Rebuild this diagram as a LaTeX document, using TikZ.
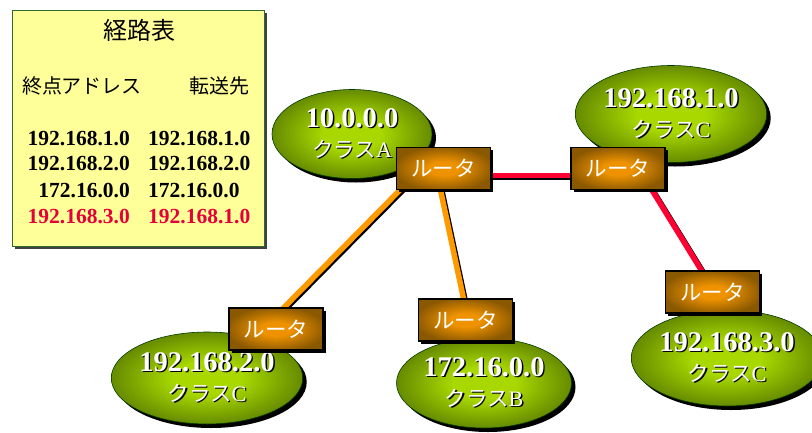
\documentclass[tikz,border=0pt]{standalone}
\usepackage{fontspec}
\setmainfont{Liberation Serif}
\newfontfamily\jp{Noto Sans CJK JP}
\usetikzlibrary{shapes.geometric,shadows,calc}
\pgfdeclarelayer{background}
\pgfsetlayers{background,main}

\definecolor{netlite}{HTML}{A8D800}
\definecolor{netdark}{HTML}{4E6E00}
\definecolor{rtlite}{HTML}{EE9200}
\definecolor{rtdark}{HTML}{8A5800}
\definecolor{tabfill}{HTML}{FFFF99}
\definecolor{tabedge}{HTML}{2E6B2E}
\definecolor{linkred}{HTML}{FF0033}
\definecolor{linkorange}{HTML}{FF9900}
\definecolor{rowred}{HTML}{E6003A}

\pgfdeclareradialshading{netglow}{\pgfpoint{0bp}{0bp}}{color(0bp)=(netlite); color(9bp)=(netlite); color(31bp)=(netdark); color(50bp)=(netdark)}
\pgfdeclareradialshading{rtglow}{\pgfpoint{0bp}{0bp}}{color(0bp)=(rtlite); color(8bp)=(rtlite); color(27bp)=(rtdark); color(50bp)=(rtdark)}

% white label with a dark drop shadow behind it
\newcommand\shtext[1]{\rlap{\kern1.4pt\raisebox{-1.4pt}{\color{black}#1}}#1}
\newcommand\addr[1]{\shtext{\fontsize{28.5}{30}\selectfont\bfseries #1}}
\newcommand\cls[1]{\shtext{{\jp クラス}\fontsize{22}{30}\selectfont #1}}

\tikzset{
  net/.style={ellipse, shade, shading=netglow, draw=black!60!green!60!black, line width=0.6pt,
    inner sep=0pt, text=white, align=center, font=\fontsize{21.5}{30}\selectfont,
    drop shadow={shadow xshift=4pt, shadow yshift=-4pt, fill=black, opacity=1}},
  router/.style={rectangle, shade, shading=rtglow, draw=black, line width=1.1pt,
    minimum width=94pt, minimum height=42pt, inner sep=0pt, text=white,
    font=\jp\fontsize{21.5}{21.5}\selectfont,
    drop shadow={shadow xshift=2.5pt, shadow yshift=-2.5pt, fill=black, opacity=1}},
  link/.style={line width=5.5pt, shorten <=-8pt, shorten >=-8pt,
    preaction={draw=black, line width=5.5pt, transform canvas={shift={(1.6pt,-1.6pt)}}}},
  tablebox/.style={rectangle, fill=tabfill, draw=tabedge, line width=0.8pt, inner sep=0pt,
    drop shadow={shadow xshift=3pt, shadow yshift=-3pt, fill=black!75, opacity=1}},
  hdr/.style={font=\jp\fontsize{20}{20}\selectfont, inner sep=0pt},
  rowtext/.style={font=\fontsize{21.5}{21.5}\selectfont\bfseries, inner sep=0pt},
}

\begin{document}
\begin{tikzpicture}[x=1pt, y=1pt]
\useasboundingbox (0,0) rectangle (812,-432);

% routing table
\node[tablebox, minimum width=252pt, minimum height=236pt] (tbl) at (138,-128) {};
\node[font=\jp\fontsize{24}{24}\selectfont, inner sep=0pt] (ttl) at (139,-30) {経路表};
\node[hdr] (hdst) at (82,-86) {終点アドレス};
\node[hdr] (hnxt) at (219,-86) {転送先};
\node[rowtext, anchor=base east] (d1) at (130,-145) {192.168.1.0};
\node[rowtext, anchor=base west] (g1) at (148,-145) {192.168.1.0};
\node[rowtext, anchor=base east] (d2) at (130,-170.5) {192.168.2.0};
\node[rowtext, anchor=base west] (g2) at (148,-170.5) {192.168.2.0};
\node[rowtext, anchor=base east] (d3) at (130,-197) {172.16.0.0};
\node[rowtext, anchor=base west] (g3) at (148,-197) {172.16.0.0};
\node[rowtext, anchor=base east, text=rowred] (d4) at (130,-223) {192.168.3.0};
\node[rowtext, anchor=base west, text=rowred] (g4) at (148,-223) {192.168.1.0};

% networks
\node[net, minimum width=160pt, minimum height=89pt] (n1) at (352,-134) {\addr{10.0.0.0}\\\cls{A}};
\node[net, minimum width=175pt, minimum height=97pt] (n2) at (671,-114) {\addr{192.168.1.0}\\\cls{C}};
\node[net, minimum width=176pt, minimum height=92pt] (n3) at (207,-378) {\addr{192.168.2.0}\\\cls{C}};
\node[net, minimum width=175pt, minimum height=90pt] (n4) at (484,-383) {\addr{172.16.0.0}\\\cls{B}};
\node[net, minimum width=160pt, minimum height=96pt] (n5) at (727,-358) {\addr{192.168.3.0}\\\cls{C}};

% routers
\node[router] (r1) at (443.5,-168.5) {ルータ};
\node[router] (r2) at (618,-168.5) {ルータ};
\node[router] (r3) at (276,-329) {ルータ};
\node[router] (r4) at (465.5,-320) {ルータ};
\node[router] (r5) at (712.5,-292) {ルータ};

% links
\begin{pgfonlayer}{background}
\draw[link, linkred] ([yshift=-7pt]r1.east) -- ([yshift=-7pt]r2.west);
\draw[link, linkred] ([xshift=34pt]r2.south) -- ([xshift=-11pt]r5.north);
\draw[link, linkorange] ([xshift=4pt]r1.south west) -- ([xshift=8pt]r3.north);
\draw[link, linkorange] ([xshift=-3pt]r1.south) -- ([xshift=-2pt]r4.north);
\end{pgfonlayer}
\end{tikzpicture}
\end{document}
